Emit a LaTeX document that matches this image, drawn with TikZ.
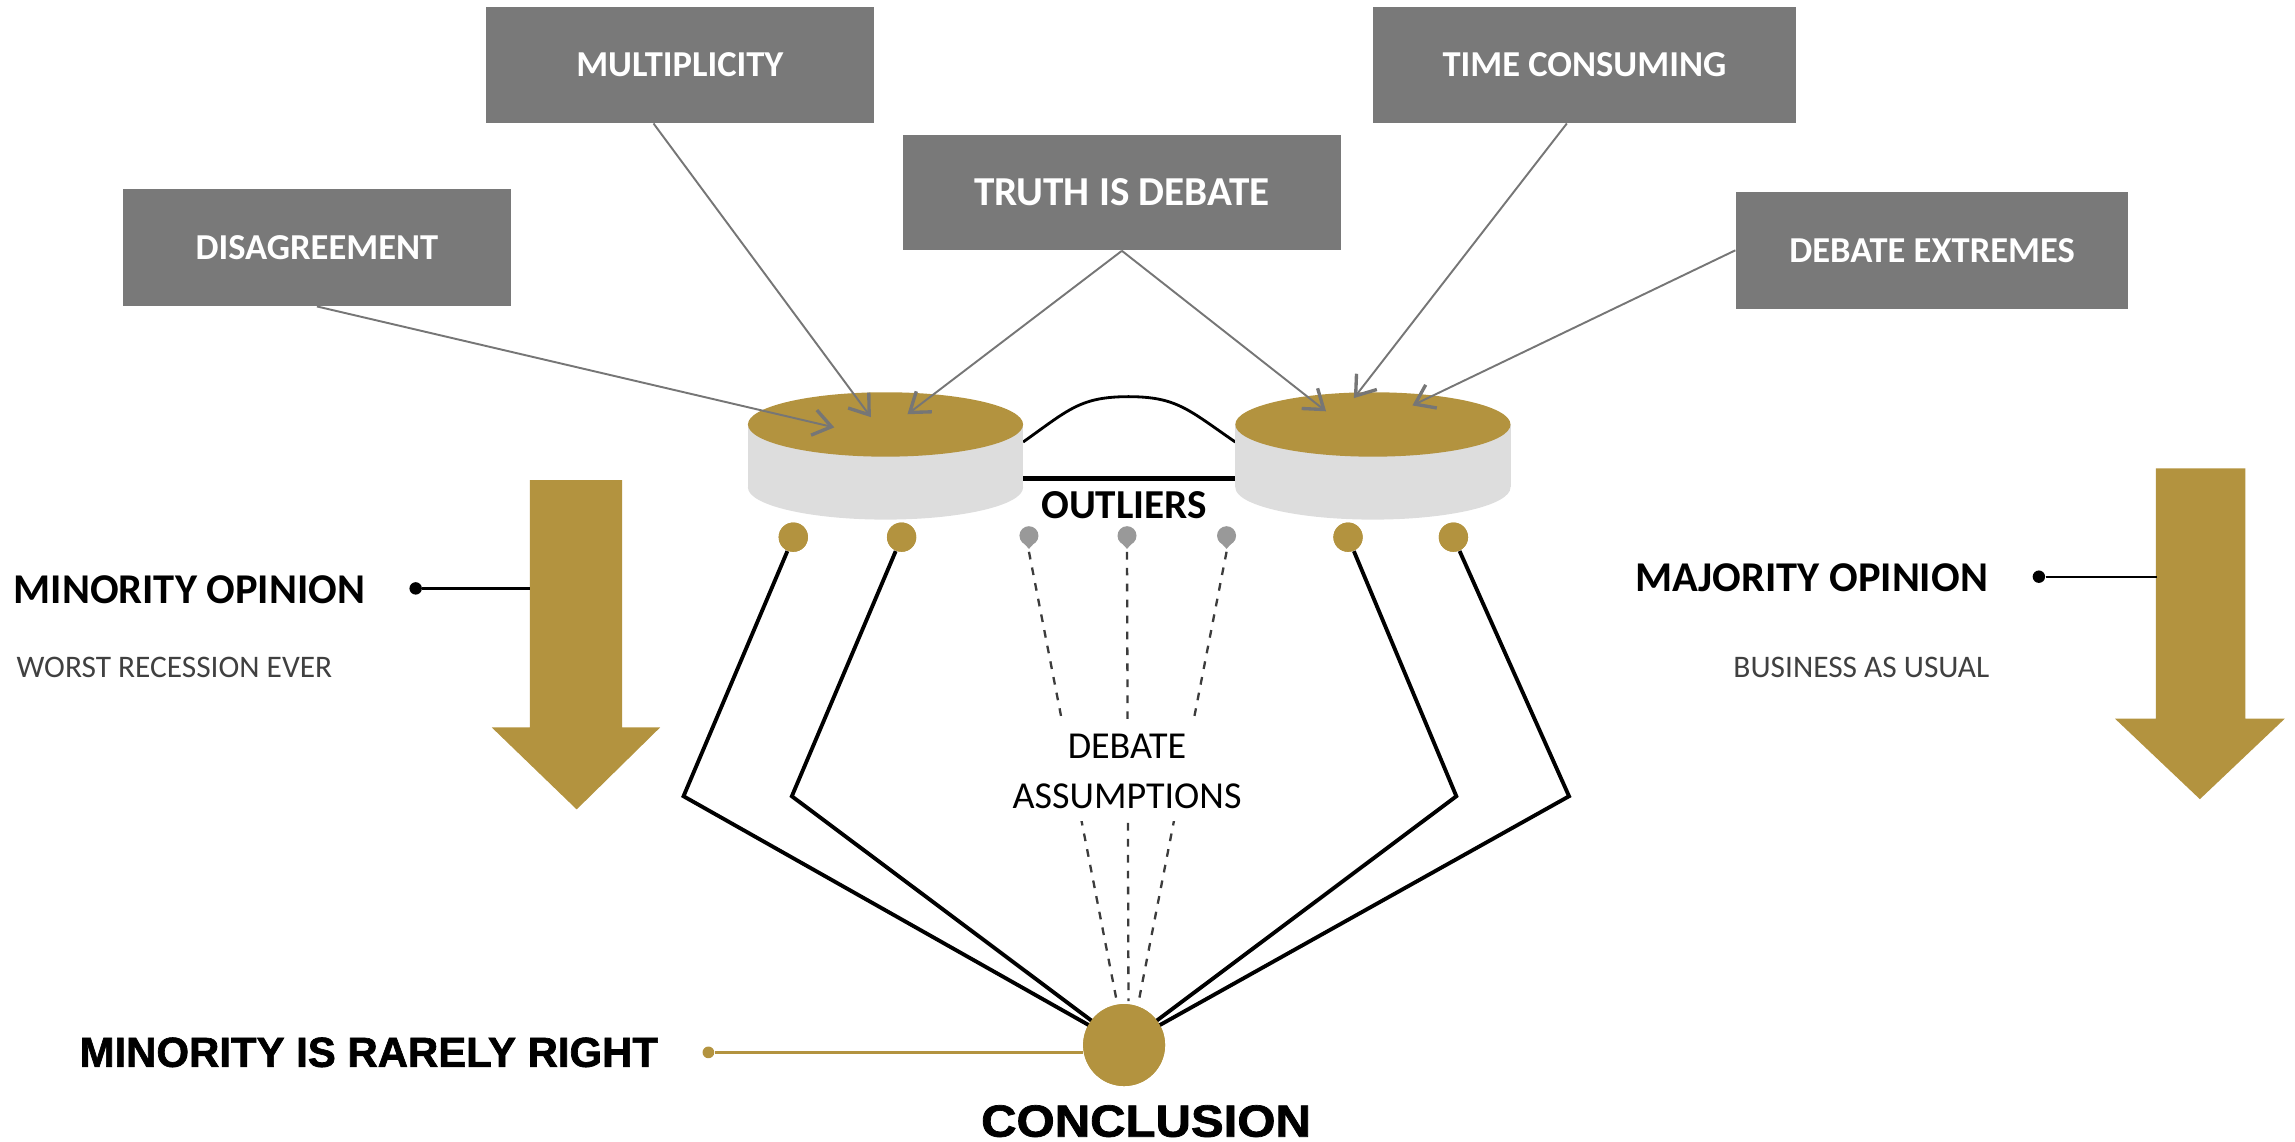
\documentclass[tikz,border=0pt]{standalone}
\usepackage{fontspec}
\setmainfont{Carlito}
\newfontfamily\arialfam{Liberation Sans}
\newfontfamily\arialheavy{Liberation Sans Bold}[FakeBold=1.6]
\usetikzlibrary{arrows.meta,calc}
\definecolor{gold}{HTML}{B3933F}
\definecolor{boxgray}{HTML}{797979}
\definecolor{cylgray}{HTML}{DDDDDD}
\definecolor{lngray}{HTML}{767676}
\definecolor{tdgray}{HTML}{999999}
\definecolor{subgray}{HTML}{404040}
\definecolor{dashgray}{HTML}{3C3C3C}
\begin{document}
\begin{tikzpicture}[x=0.2mm,y=-0.2mm,
  topbox/.style={fill=boxgray,text=white,inner sep=0pt,minimum height=16mm,
     font=\fontsize{14.2}{16}\selectfont\bfseries},
  feed/.style={draw=lngray,line width=0.75pt,
     -{Straight Barb[length=7pt,width=10pt,line width=1.3pt]}},
  golddot/.style={circle,fill=gold,inner sep=0pt,minimum size=4mm},
  smalldot/.style={circle,fill=black,inner sep=0pt,minimum size=1.7mm},
  leg/.style={line width=1.5pt,line join=miter},
  dashln/.style={draw=dashgray,line width=0.9pt,dash pattern=on 3pt off 3.2pt},
  bigarrow/.style={fill=gold}]
\useasboundingbox (0,0) rectangle (1568,780);

% top boxes
\node[topbox,minimum width=53mm] (dis) at (216.5,169) {DISAGREEMENT};
\node[topbox,minimum width=53mm,minimum height=15.8mm] (mul) at (464.5,44.5) {MULTIPLICITY};
\node[topbox,minimum width=59.8mm,minimum height=15.8mm,font=\fontsize{16}{18}\selectfont\bfseries] (tru) at (766.5,131.5) {TRUTH IS DEBATE};
\node[topbox,minimum width=57.8mm,minimum height=15.8mm] (tim) at (1082.5,44.5) {TIME CONSUMING};
\node[topbox,minimum width=53.6mm] (ext) at (1320,171) {DEBATE EXTREMES};

% bell curve and baseline
\draw[line width=1.1pt] (699,302) .. controls (730,280) and (738,271) .. (771,271)
   .. controls (804,271) and (812,280) .. (844,302);
\draw[line width=2pt] (699,327) -- (844,327);

% cylinders
\foreach \cx/\nm in {605/cylL,938/cylR}{
  \fill[cylgray] (\cx-94,290) rectangle (\cx+94,333);
  \fill[cylgray] (\cx,333) ellipse [x radius=94,y radius=22];
  \fill[gold] (\cx,290) ellipse [x radius=94,y radius=22];
  \coordinate (\nm) at (\cx,290);
}

\node[font=\fontsize{16}{18}\selectfont\bfseries] (out) at (768,345) {OUTLIERS};

% arrow targets on the cylinders
\coordinate (aL1) at (570,292);
\coordinate (aL2) at (595,285);
\coordinate (aL3) at (620,283);
\coordinate (aR1) at (906,281);
\coordinate (aR2) at (925,272);
\coordinate (aR3) at (965,277);

\draw[feed] (dis.south) -- (aL1);
\draw[feed] ($(mul.south)+(-18,0)$) -- (aL2);
\draw[feed] (tru.south) -- (aL3);
\draw[feed] (tru.south) -- (aR1);
\draw[feed] ($(tim.south)+(-12,0)$) -- (aR2);
\draw[feed] (ext.west) -- (aR3);

% conclusion
\node[circle,fill=gold,inner sep=0pt,minimum size=11.2mm] (C) at (768,714) {};

% dots under cylinders
\node[golddot] (d1) at (542,367) {};
\node[golddot] (d2) at (616,367) {};
\node[golddot] (d3) at (921,367) {};
\node[golddot] (d4) at (993,367) {};

\coordinate (k1) at (467,544);
\coordinate (k2) at (541,544);
\coordinate (k3) at (995,544);
\coordinate (k4) at (1072,544);

\draw[leg] (d1) -- (k1) -- (C.center);
\draw[leg] (d2) -- (k2) -- (C.center);
\draw[leg] (d3) -- (k3) -- (C.center);
\draw[leg] (d4) -- (k4) -- (C.center);
\node[circle,fill=gold,inner sep=0pt,minimum size=11.2mm] at (C) {};
\node[golddot] at (d1) {};
\node[golddot] at (d2) {};
\node[golddot] at (d3) {};
\node[golddot] at (d4) {};

% outlier teardrops
\coordinate (t1) at (703,366);
\coordinate (t2) at (770,366);
\coordinate (t3) at (838,366);
\foreach \t in {t1,t2,t3}{
  \fill[tdgray] (\t) circle[radius=6.5];
  \fill[tdgray] ($(\t)+(-5.5,3)$) -- ($(\t)+(5.5,3)$) -- ($(\t)+(0,9)$) -- cycle;
}
\coordinate (e1) at (763,684);
\coordinate (e2) at (771,684);
\coordinate (e3) at (778,684);
\draw[dashln] ($(t1)+(0,11)$) -- (e1);
\draw[dashln] ($(t2)+(0,11)$) -- (e2);
\draw[dashln] ($(t3)+(0,11)$) -- (e3);

\node[fill=white,align=center,inner sep=5pt,font=\fontsize{14.8}{19.3}\selectfont] (da) at (770,527) {DEBATE\\ASSUMPTIONS};

% big arrows
\fill[bigarrow] (362,328) -- (425,328) -- (425,497) -- (451,497) -- (394,553) -- (336,497) -- (362,497) -- cycle;
\fill[bigarrow] (1473,320) -- (1534,320) -- (1534,491) -- (1561,491) -- (1503,546) -- (1445,491) -- (1473,491) -- cycle;
\coordinate (arL) at (362,402);
\coordinate (arR) at (1474,394);

% opinions
\node[anchor=west,inner sep=0pt,font=\fontsize{16.5}{18}\selectfont\bfseries] (minop) at (9,403) {MINORITY OPINION};
\node[anchor=west,inner sep=0pt,text=subgray,font=\fontsize{12.2}{14}\selectfont] (minsub) at (11,456) {WORST RECESSION EVER};
\node[smalldot] (md) at (284,402) {};
\draw[line width=0.9pt] (md) -- (arL);

\node[anchor=west,inner sep=0pt,font=\fontsize{16.5}{18}\selectfont\bfseries] (majop) at (1117,395) {MAJORITY OPINION};
\node[anchor=west,inner sep=0pt,text=subgray,font=\fontsize{12.2}{14}\selectfont] (majsub) at (1184,456) {BUSINESS AS USUAL};
\node[smalldot] (jd) at (1393,394) {};
\draw[line width=0.9pt] (jd) -- (arR);

% minority is rarely right
\node[inner sep=0pt,font=\arialheavy\fontsize{16.3}{18}\selectfont] (mrr) at (252,719) {MINORITY IS RARELY RIGHT};
\node[circle,fill=gold,inner sep=0pt,minimum size=1.6mm] (gd) at (484,719) {};
\draw[gold,line width=1.1pt] (gd) -- (C.west |- gd);

\node[inner sep=0pt,font=\arialheavy\fontsize{17.5}{20}\selectfont] (concl) at (783,766) {\scalebox{1.09}[1]{CONCLUSION}};
\end{tikzpicture}
\end{document}
